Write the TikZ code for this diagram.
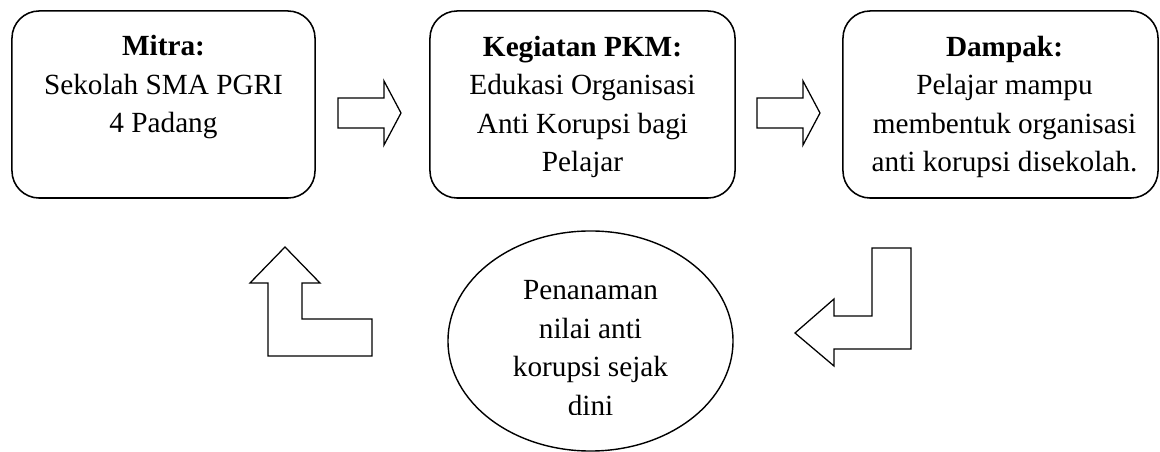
\documentclass[tikz,border=0pt]{standalone}
\usepackage{fontspec}
\setmainfont{Liberation Serif}
\usepackage{tikz}
\usetikzlibrary{positioning,calc,shapes.geometric}
\newcommand{\bodysize}{\fontsize{20.8}{27.4}\selectfont}
\tikzset{
  box/.style={draw,rounded corners=0.68cm,line width=1.1pt,minimum height=4.675cm,inner sep=0pt},
  txt/.style={align=center,inner sep=0pt,font=\bodysize,anchor=north},
  oval/.style={draw,ellipse,line width=1pt,minimum width=7.125cm,minimum height=5.5cm,inner sep=0pt},
  blkarr/.style={draw,line width=0.9pt,line join=miter},
}
\newcommand{\blockright}[1]{\draw[blkarr] (#1) ++(0,-15) -- ++(46,0) -- ++(0,-17) -- ++(17,32) -- ++(-17,32) -- ++(0,-17) -- ++(-46,0) -- cycle;}

\begin{document}
\begin{tikzpicture}[x=0.025cm,y=-0.025cm]
\useasboundingbox (0,0) rectangle (1160,452);
% top row
\node[box,minimum width=7.575cm] (mitra) at (163.5,104.5) {};
\node[box,minimum width=7.625cm] (pkm) at (582.5,104.5) {};
\node[box,minimum width=7.875cm] (dampak) at (1000.5,104.5) {};
\node[txt] (mitraT) at ($(mitra.north)+(0,25)$)
  {\textbf{Mitra:}\\ Sekolah SMA PGRI\\ 4 Padang};
\node[txt] (pkmT) at ($(pkm.north)+(0,25.5)$)
  {\textbf{Kegiatan PKM:}\\ Edukasi Organisasi\\ Anti Korupsi bagi\\ Pelajar};
\node[txt] (dampakT) at ($(dampak.north)+(4,25.5)$)
  {\textbf{Dampak:}\\ Pelajar mampu\\ membentuk organisasi\\ anti korupsi disekolah.};
% bottom row
\node[oval] (nilai) at (590.5,341) {};
\begin{scope}
\clip (440,228) rectangle (740,415);
\node[txt] (nilaiT) at ($(nilai.north)+(0,50)$)
  {Penanaman\\ nilai anti\\ korupsi sejak\\ dini};
\end{scope}
% block arrows
\coordinate (r1) at (338,113);
\coordinate (r2) at (757,113);
\blockright{r1}
\blockright{r2}
\coordinate (dl) at (911,248);
\draw[blkarr] (dl) -- ++(0,101) -- ++(-77,0) -- ++(0,17) -- ++(-39,-33) -- ++(39,-34)
  -- ++(0,17) -- ++(38,0) -- ++(0,-68) -- cycle;
\coordinate (ul) at (285,247);
\draw[blkarr] (ul) -- ++(35,36) -- ++(-18,0) -- ++(0,36) -- ++(70,0) -- ++(0,37)
  -- ++(-104,0) -- ++(0,-73) -- ++(-18,0) -- cycle;
\end{tikzpicture}
\end{document}
